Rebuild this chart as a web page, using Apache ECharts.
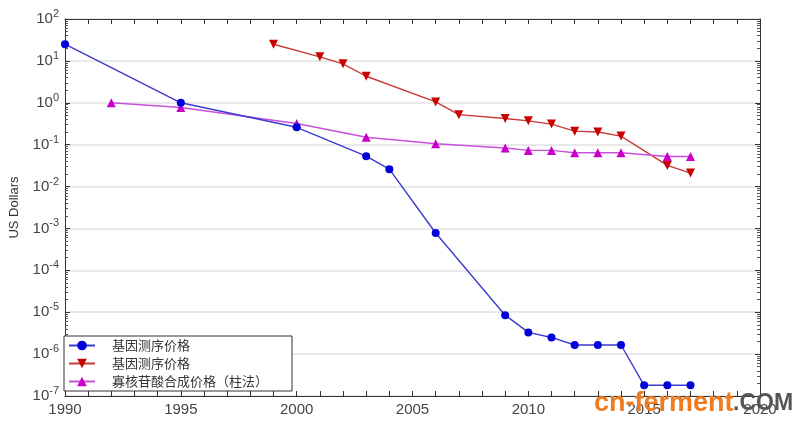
<!DOCTYPE html>
<html style="height: 100%">
<head>
  <meta charset="utf-8">
  <title>成本</title>
</head>
<body style="height: 100%; margin: 0; background: #fff">
<div id="container" style="width: 800px; height: 427px"></div>
<script src="https://cdn.jsdelivr.net/npm/echarts@6/dist/echarts.min.js"></script>
<script>
  // 基因测序价格 (blue)
  const seqYears = [1990, 1995, 2000, 2003, 2004, 2006, 2009, 2010, 2011, 2012, 2013, 2014, 2015, 2016, 2017];
  const seqCost = [25, 1.0, 0.26, 0.053, 0.026, 7.8e-4, 8.5e-6, 3.3e-6, 2.5e-6, 1.65e-6, 1.65e-6, 1.65e-6, 1.8e-7, 1.8e-7, 1.8e-7];
  // 基因测序价格 (red)
  const seq2Years = [1999, 2001, 2002, 2003, 2006, 2007, 2009, 2010, 2011, 2012, 2013, 2014, 2016, 2017];
  const seq2Cost = [25, 12.5, 8.5, 4.3, 1.05, 0.52, 0.42, 0.37, 0.31, 0.21, 0.2, 0.16, 0.032, 0.021];
  // 寡核苷酸合成价格（柱法）(magenta)
  const oligoYears = [1992, 1995, 2000, 2003, 2006, 2009, 2010, 2011, 2012, 2013, 2014, 2016, 2017];
  const oligoCost = [1.0, 0.77, 0.32, 0.15, 0.105, 0.083, 0.073, 0.073, 0.064, 0.064, 0.064, 0.052, 0.052];

  const legendNames = ['基因测序价格', '基因测序价格 ', '寡核苷酸合成价格（柱法）'];

  const pairs = (xs, ys) => xs.map((x, i) => [x, ys[i]]);

  var dom = document.getElementById('container');
  var myChart = echarts.init(dom);

  const axisLine = { show: true, lineStyle: { color: '#333', width: 1 } };
  const supLabel = v => {
    const e = Math.round(Math.log10(v));
    return '{b|10}{s|' + e + '}';
  };

  var option = {
    backgroundColor: '#fff',
    animation: false,
    grid: { left: 65, right: 40, top: 19, bottom: 31 },
    legend: {
      orient: 'vertical',
      left: 64,
      top: 336,
      data: legendNames,
      backgroundColor: '#fff',
      borderColor: '#333',
      borderWidth: 1,
      borderRadius: 0,
      padding: [3, 24, 3, 4],
      itemGap: 5,
      itemWidth: 26,
      itemHeight: 12,
      textStyle: { fontFamily: 'Noto Sans CJK SC', fontSize: 13, color: '#333', padding: [0, 0, 0, 12] }
    },
    xAxis: [{
      type: 'value',
      min: 1990, max: 2020, interval: 5,
      axisLine: axisLine,
      axisTick: { inside: true, length: 5, lineStyle: { color: '#333' } },
      minorTick: { show: true, splitNumber: 5, length: 5, lineStyle: { color: '#333' } },
      splitLine: { show: false },
      axisLabel: { formatter: v => String(v), fontFamily: 'Liberation Sans', fontSize: 15, color: '#444', margin: 6 }
    }, {
      type: 'value', position: 'top',
      min: 1990, max: 2020, interval: 5,
      axisLine: axisLine,
      axisTick: { inside: true, length: 5, lineStyle: { color: '#333' } },
      minorTick: { show: true, splitNumber: 5, length: 5, lineStyle: { color: '#333' } },
      splitLine: { show: false },
      axisLabel: { show: false }
    }],
    yAxis: [{
      type: 'log', logBase: 10,
      min: 1e-7, max: 100, interval: 1,
      name: 'US Dollars',
      nameLocation: 'middle',
      nameGap: 44,
      nameTextStyle: { fontFamily: 'Liberation Sans', fontSize: 13, color: '#333' },
      axisLine: axisLine,
      axisTick: { inside: true, length: 5, lineStyle: { color: '#333' } },
      minorTick: { show: true, splitNumber: 9, length: 3, lineStyle: { color: '#555' } },
      splitLine: { show: true, lineStyle: { color: '#e2e2e2', width: 1.5 } },
      axisLabel: {
        formatter: supLabel,
        margin: 6,
        rich: {
          b: { fontFamily: 'Liberation Sans', fontSize: 15, color: '#444' },
          s: { fontFamily: 'Liberation Sans', fontSize: 11, color: '#444', verticalAlign: 'top', padding: [0, 0, 10, 0] }
        }
      }
    }, {
      type: 'log', logBase: 10, position: 'right',
      min: 1e-7, max: 100, interval: 1,
      axisLine: axisLine,
      axisTick: { inside: true, length: 5, lineStyle: { color: '#333' } },
      minorTick: { show: true, splitNumber: 9, length: 3, lineStyle: { color: '#555' } },
      splitLine: { show: false },
      axisLabel: { show: false }
    }],
    series: [{
      name: legendNames[0],
      type: 'line',
      data: pairs(seqYears, seqCost),
      symbol: 'circle', symbolSize: 8,
      itemStyle: { color: '#0000d8' },
      lineStyle: { color: '#3b3bd0', width: 1.4 },
      z: 3
    }, {
      name: legendNames[1],
      type: 'line',
      data: pairs(seq2Years, seq2Cost),
      symbol: 'triangle', symbolRotate: 180, symbolSize: 9,
      itemStyle: { color: '#c80000' },
      lineStyle: { color: '#c83a3a', width: 1.4 },
      z: 2
    }, {
      name: legendNames[2],
      type: 'line',
      data: pairs(oligoYears, oligoCost),
      symbol: 'triangle', symbolSize: 9,
      itemStyle: { color: '#c800c8' },
      lineStyle: { color: '#c850dc', width: 1.4 },
      z: 2
    }],
    graphic: [{
      type: 'text', left: 594, top: 390, z: 100,
      style: { text: 'cn-ferment', fill: '#f07b1e', font: 'bold 27px "Liberation Sans"' }
    }, {
      type: 'text', left: 733, top: 392, z: 100,
      style: { text: '.COM', fill: '#555', font: 'bold 23px "Liberation Sans"' }
    }]
  };

  myChart.setOption(option);
</script>
</body>
</html>
